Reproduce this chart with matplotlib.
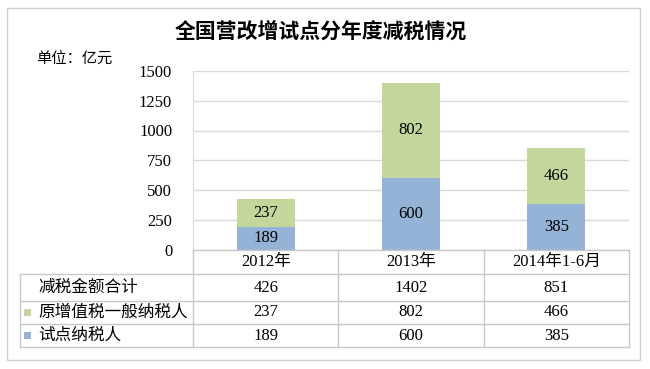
import matplotlib
matplotlib.use('Agg')
import matplotlib.pyplot as plt
from matplotlib.lines import Line2D
from matplotlib.patches import Rectangle

plt.rcParams['font.family'] = ['Liberation Serif', 'Noto Sans CJK SC', 'DejaVu Sans']

title = '全国营改增试点分年度减税情况'
unit = '单位：亿元'
categories = ['2012年', '2013年', '2014年1-6月']
pilot = [189, 600, 385]            # 试点纳税人
original_vat = [237, 802, 466]     # 原增值税一般纳税人
totals = [426, 1402, 851]          # 减税金额合计
yticks = [0, 250, 500, 750, 1000, 1250, 1500]

blue = '#95b3d7'
green = '#c3d69b'
grid = '#d9d9d9'
line_c = '#c8c8c8'

W, H = 650, 369
fig = plt.figure(figsize=(6.5, 3.69), dpi=100)


def fx(px):
    return px / W


def fy(py):
    return 1 - py / H


# outer frame
fig.add_artist(Rectangle((fx(7), fy(360)), fx(633), (352) / H, fill=False,
                         edgecolor='#d0d0d0', linewidth=1, transform=fig.transFigure))

left, right, top, bottom = 193, 629, 71, 249.5
ax = fig.add_axes([fx(left), fy(bottom), fx(right - left), (bottom - top) / H])

x = range(len(categories))
ax.bar(x, pilot, width=0.4, color=blue, zorder=3)
ax.bar(x, original_vat, width=0.4, bottom=pilot, color=green, zorder=3)
for i in x:
    ax.text(i, pilot[i] / 2, str(pilot[i]), ha='center', va='center', fontsize=12, zorder=4)
    ax.text(i, pilot[i] + original_vat[i] / 2, str(original_vat[i]), ha='center',
            va='center', fontsize=12, zorder=4)

ax.set_xlim(-0.5, len(categories) - 0.5)
ax.set_ylim(0, 1500)
ax.set_yticks(yticks)
ax.set_yticklabels([str(v) for v in yticks], fontsize=12)
ax.tick_params(axis='y', length=0, pad=15)
ax.set_xticks([])
ax.yaxis.grid(True, color=grid, linewidth=1, zorder=0)
for s in ['top', 'right', 'bottom']:
    ax.spines[s].set_visible(False)
ax.spines['left'].set_color(grid)

fig.text(fx(321), fy(33), title, ha='center', va='center', fontsize=15, fontweight='bold')
fig.text(fx(36), fy(60), unit, ha='left', va='center', fontsize=11)

# data table
col_w = (right - left) / len(categories)
row_lines = [274, 301, 324, 347]
tl = dict(color=line_c, linewidth=1, transform=fig.transFigure)
fig.add_artist(Line2D([fx(left), fx(right)], [fy(bottom), fy(bottom)], **tl))
for yy in row_lines:
    fig.add_artist(Line2D([fx(20), fx(right)], [fy(yy), fy(yy)], **tl))
for k in range(len(categories) + 1):
    xx = left + k * col_w
    fig.add_artist(Line2D([fx(xx), fx(xx)], [fy(bottom), fy(347)], **tl))
fig.add_artist(Line2D([fx(20), fx(20)], [fy(274), fy(347)], **tl))

hy = (bottom + 274) / 2
for i, c in enumerate(categories):
    fig.text(fx(left + (i + 0.5) * col_w), fy(hy), c, ha='center', va='center', fontsize=12)

rows = [('减税金额合计', totals, None),
        ('原增值税一般纳税人', original_vat, green),
        ('试点纳税人', pilot, blue)]
for r, (label, vals, col) in enumerate(rows):
    yc = (row_lines[r] + row_lines[r + 1]) / 2
    if col is not None:
        fig.add_artist(Rectangle((fx(24), fy(yc + 3.5)), fx(7), 7 / H, facecolor=col,
                                 edgecolor='none', transform=fig.transFigure))
    fig.text(fx(38), fy(yc), label, ha='left', va='center', fontsize=12)
    for i, v in enumerate(vals):
        fig.text(fx(left + (i + 0.5) * col_w), fy(yc), str(v), ha='center', va='center',
                 fontsize=12)

fig.savefig('out.png', dpi=100, facecolor='white')
